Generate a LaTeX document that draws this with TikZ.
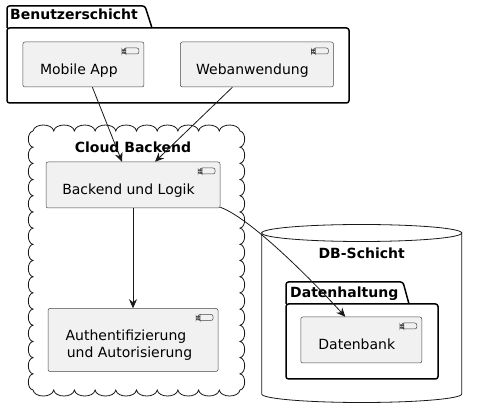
\documentclass[tikz,border=0pt]{standalone}
\usepackage{fontspec}
\setmainfont{DejaVu Sans}
\usepackage{tikz}
\usetikzlibrary{arrows.meta, positioning}
\usepackage{xcolor}
\definecolor{compfill}{HTML}{F1F1F1}
\definecolor{compline}{HTML}{181818}
\tikzstyle{component} = [
    rectangle,
    rounded corners=2pt,
    draw=compline!80,
    line width=0.5pt,
    fill=compfill,
    font=\fontsize{14}{17}\selectfont,
    text height=23pt,
    text depth=3pt,
    text centered,
    path picture={
        \draw[compline!80, line width=0.5pt, fill=compfill]
            ([shift={(-20pt,-6pt)}]path picture bounding box.north east) rectangle ++(15pt,-6pt)
            ([shift={(-22pt,-7.5pt)}]path picture bounding box.north east) rectangle ++(4pt,-1.5pt)
            ([shift={(-22pt,-10pt)}]path picture bounding box.north east) rectangle ++(4pt,-1.5pt);
    }
]
\tikzstyle{title} = [
    font=\fontsize{14}{17}\selectfont\bfseries,
    inner sep=0pt
]
\tikzstyle{package} = [
    draw=black,
    line width=1.5pt,
    rounded corners=2.5pt
]
\tikzstyle{link} = [
    draw=compline,
    line width=0.8pt,
    -{Stealth[length=9pt, width=8pt, inset=3pt]}
]

\begin{document}
\begin{tikzpicture}[x=1pt, y=1pt, node distance=36pt, auto]
    \useasboundingbox (0,0) rectangle (477,-419);

    \draw[package] (7,-28) -- (7,-6) -- (145,-6) -- (152,-28);
    \draw[package] (7,-28) rectangle (349,-103);
    \node[title, anchor=base west] (benutzer) at (10,-20) {Benutzerschicht};
    \node[component, minimum width=121pt, minimum height=45pt, execute at end node={\hspace*{9pt}}] (mobile) at (83.4,-64.5) {Mobile App};
    \node[component, minimum width=153pt, minimum height=45pt, execute at end node={\hspace*{9pt}}] (web) [right=36pt of mobile] {Webanwendung};

    \draw[compline, line width=0.8pt] (33,-131)
        \foreach \i in {1,...,10} { to[bend left=80] ++(20.7,0) }
        \foreach \i in {1,...,16} { to[bend left=80] ++(0,-16.19) }
        \foreach \i in {1,...,10} { to[bend left=80] ++(-20.7,0) }
        \foreach \i in {1,...,16} { to[bend left=80] ++(0,16.19) };
    \node[title, anchor=base] (cloud) at (133,-152.3) {Cloud Backend};
    \node[component, minimum width=174pt, minimum height=46pt, execute at end node={\hspace*{9pt}}] (backend) at (133,-185) {Backend und Logik};
    \node[component, minimum width=170pt, minimum height=63pt, align=center, text height=40pt, text depth=4pt] (auth) [below=100pt of backend] {Authentifizierung\hspace*{14pt}\\und Autorisierung\hspace*{7pt}};

    \draw[compline, line width=0.8pt, fill=white] (261.7,-233) arc[start angle=180, end angle=360, x radius=100, y radius=8.5]
        -- (461.7,-394) arc[start angle=0, end angle=-180, x radius=100, y radius=8.5] -- cycle;
    \draw[compline, line width=0.8pt] (261.7,-233) arc[start angle=180, end angle=0, x radius=100, y radius=8.5];
    \node[title, anchor=base] (db) at (361.7,-258.3) {DB-Schicht};
    \draw[package] (286,-304) -- (286,-282) -- (403,-282) -- (409,-304);
    \draw[package] (286,-304) rectangle (438,-379);
    \node[title, anchor=base west] (datenhaltung) at (290,-297.3) {Datenhaltung};
    \node[component, minimum width=121pt, minimum height=46pt, execute at end node={\hspace*{9pt}}] (datenbank) at (361.3,-340) {Datenbank};

    \draw[link] ([xshift=9pt]mobile.south) -- ([xshift=-11pt]backend.north);
    \draw[link] ([xshift=-24.5pt]web.south) -- ([xshift=22pt]backend.north);
    \draw[link] (backend) -- (auth);
    \draw[link] ([yshift=1pt]backend.south east) .. controls (250,-218) and (310,-278) .. ([xshift=-16pt]datenbank.north);
\end{tikzpicture}
\end{document}
